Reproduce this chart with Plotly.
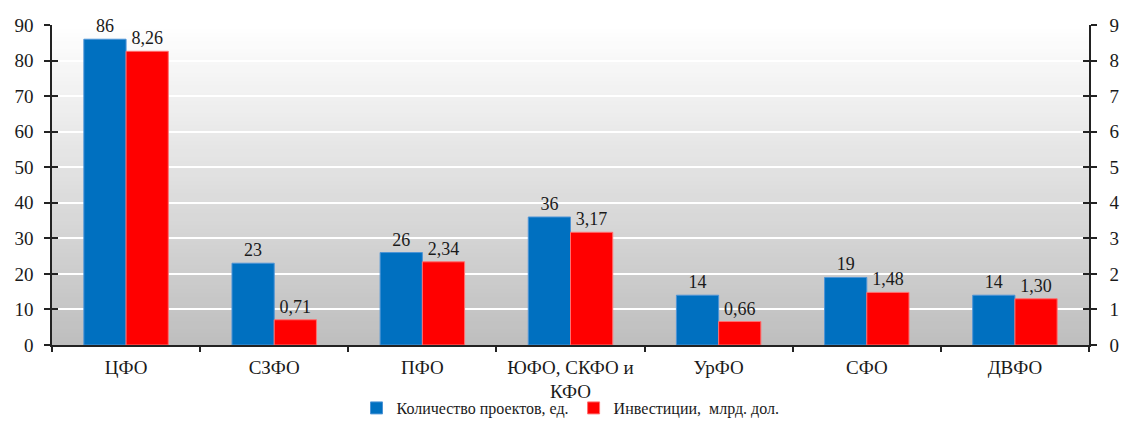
import plotly.graph_objects as go

categories = ["ЦФО", "СЗФО", "ПФО", "ЮФО, СКФО и<br>КФО", "УрФО", "СФО", "ДВФО"]
projects = [86, 23, 26, 36, 14, 19, 14]
investments = [8.26, 0.71, 2.34, 3.17, 0.66, 1.48, 1.30]
projects_name = "Количество проектов, ед."
investments_name = "Инвестиции,  млрд. дол."

proj_text = [str(v) for v in projects]
inv_text = [f"{v:.2f}".replace(".", ",") for v in investments]

FONT = "Liberation Serif"
TXT = "#1a1a1a"

fig = go.Figure()
fig.add_trace(go.Bar(
    x=categories, y=projects, name=projects_name, offsetgroup="a",
    marker=dict(color="#0070c0", line=dict(color="#4d94d6", width=1)),
    text=proj_text, textposition="outside", cliponaxis=False,
    textfont=dict(family=FONT, size=18, color=TXT), yaxis="y",
))
fig.add_trace(go.Bar(
    x=categories, y=investments, name=investments_name, offsetgroup="b",
    marker=dict(color="#ff0000", line=dict(color="#ff7070", width=1)),
    text=inv_text, textposition="outside", cliponaxis=False,
    textfont=dict(family=FONT, size=18, color=TXT), yaxis="y2",
))

# gradient background strips
n = 80
shapes = []
top = (255, 255, 255)
bot = (190, 190, 190)
for i in range(n):
    t = (i + 0.5) / n
    c = tuple(round(bot[k] + (top[k] - bot[k]) * t) for k in range(3))
    shapes.append(dict(type="rect", xref="x domain", yref="y domain",
                       x0=0, x1=1, y0=i / n, y1=(i + 1) / n + 0.003,
                       fillcolor="rgb(%d,%d,%d)" % c, line=dict(width=0),
                       layer="below"))

axis_common = dict(tickfont=dict(family=FONT, size=19, color=TXT),
                   automargin=False)

fig.update_layout(
    template="none",
    width=1123, height=425,
    font=dict(family=FONT, color=TXT),
    margin=dict(l=52, r=34, t=25, b=80),
    paper_bgcolor="white", plot_bgcolor="white",
    barmode="group", bargap=0.43, bargroupgap=0,
    shapes=shapes,
    showlegend=True,
    legend=dict(orientation="h", x=0.5, xanchor="center",
                yref="container", y=0.0, yanchor="bottom",
                bgcolor="rgba(0,0,0,0)",
                font=dict(family=FONT, size=16, color=TXT),
                itemwidth=30, traceorder="normal"),
    xaxis=dict(type="category", tickson="boundaries", ticks="outside",
               ticklen=5, tickwidth=1.5, tickcolor="#222",
               showline=True, linecolor="#222", linewidth=1.5,
               showgrid=False, ticklabelstandoff=4, **axis_common),
    yaxis=dict(range=[0, 90], dtick=10, ticks="outside", ticklen=6,
               tickwidth=1.5, tickcolor="#222", showline=True,
               linecolor="#222", linewidth=1.5, showgrid=True,
               gridcolor="white", gridwidth=2, zeroline=False,
               ticklabelstandoff=7, **axis_common),
    yaxis2=dict(range=[0, 9], dtick=1, overlaying="y", side="right",
                ticks="outside", ticklen=6, tickwidth=1.5, tickcolor="#222",
                showline=True, linecolor="#222", linewidth=1.5,
                showgrid=False, zeroline=False, ticklabelstandoff=9,
                **axis_common),
    yaxis3=dict(range=[0, 90], dtick=10, overlaying="y", side="left",
                ticks="inside", ticklen=6, tickwidth=1.5, tickcolor="#222",
                showticklabels=False, showgrid=False, zeroline=False,
                showline=False, automargin=False),
    yaxis4=dict(range=[0, 9], dtick=1, overlaying="y", side="right",
                ticks="inside", ticklen=6, tickwidth=1.5, tickcolor="#222",
                showticklabels=False, showgrid=False, zeroline=False,
                showline=False, automargin=False),
)

# invisible helper traces so the inner-tick axes are drawn
fig.add_trace(go.Scatter(x=[categories[0]], y=[0], yaxis="y3", mode="markers",
                         marker=dict(opacity=0), showlegend=False,
                         hoverinfo="skip"))
fig.add_trace(go.Scatter(x=[categories[0]], y=[0], yaxis="y4", mode="markers",
                         marker=dict(opacity=0), showlegend=False,
                         hoverinfo="skip"))

fig.write_html("out.html",
               config={"displayModeBar": False},
               post_script="document.body.style.margin='0';"
                           "document.documentElement.style.overflow='hidden';")
